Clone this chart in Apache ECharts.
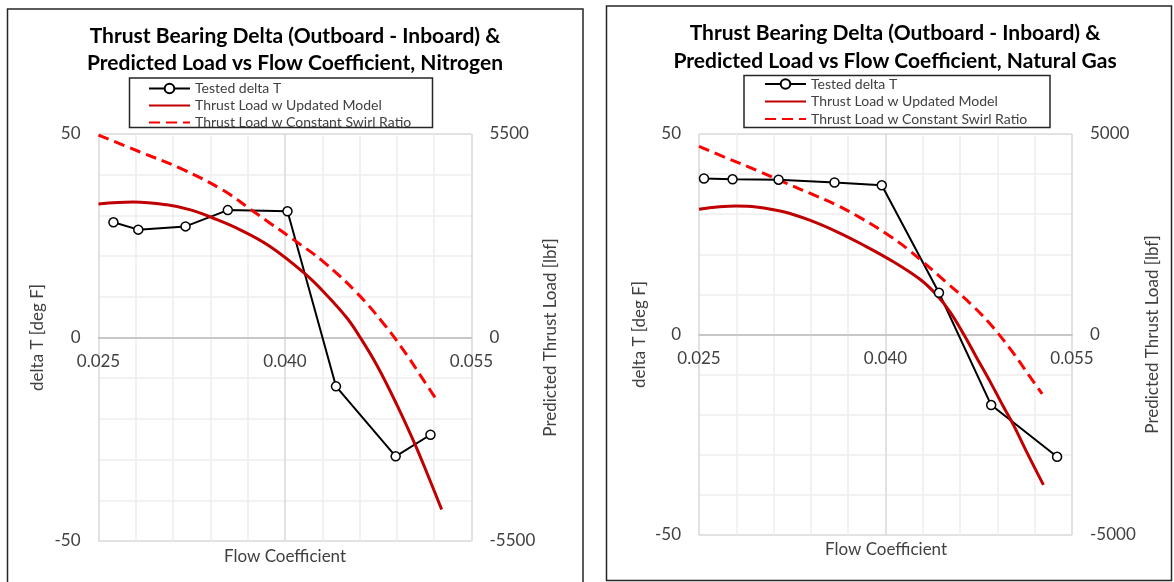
<!DOCTYPE html>
<html>
<head>
<meta charset="utf-8">
<title>Thrust Bearing Delta vs Flow Coefficient</title>
<script src="https://cdn.jsdelivr.net/npm/echarts@6/dist/echarts.min.js"></script>
<style>
html, body { margin: 0; padding: 0; background: #fff; }
#main { width: 1174px; height: 582px; }
</style>
</head>
<body>
<div id="main"></div>
<script>
// axis ticks
var flowTicks = [0.025, 0.040, 0.055];
var deltaTicks = [-50, 0, 50];
var loadTicksN2 = [-5500, 0, 5500];
var loadTicksNG = [-5000, 0, 5000];

var seriesNames = ['Tested delta T', 'Thrust Load w Updated Model', 'Thrust Load w Constant Swirl Ratio'];

// Nitrogen
var n2TestFlow = [0.0262, 0.0282, 0.0320, 0.0354, 0.0402, 0.0441, 0.0489, 0.0517];
var n2TestDelta = [28.3, 26.5, 27.3, 31.3, 31.0, -12.0, -29.2, -23.9];
var n2ModelFlow = [0.0250, 0.0278, 0.0305, 0.0324, 0.0342, 0.0364, 0.0388, 0.0416, 0.0434, 0.0450, 0.0460, 0.0474, 0.0490, 0.0505, 0.0515, 0.0526];
var n2ModelLoad = [3610, 3660, 3585, 3450, 3230, 2910, 2460, 1725, 1130, 520, 27, -757, -1820, -2920, -3730, -4650];
var n2SwirlFlow = [0.0250, 0.0283, 0.0316, 0.0350, 0.0372, 0.0388, 0.0405, 0.0431, 0.0458, 0.0480, 0.0498, 0.0509, 0.0522];
var n2SwirlLoad = [5470, 5020, 4570, 3985, 3470, 3090, 2690, 2045, 1200, 345, -470, -1030, -1685];

// Natural gas
var ngTestFlow = [0.0254, 0.0277, 0.0314, 0.0359, 0.0397, 0.0443, 0.0485, 0.0538];
var ngTestDelta = [38.9, 38.7, 38.6, 37.9, 37.2, 10.4, -17.6, -30.5];
var ngModelFlow = [0.0250, 0.0280, 0.0296, 0.0318, 0.0339, 0.0361, 0.0381, 0.0406, 0.0428, 0.0441, 0.0452, 0.0463, 0.0473, 0.0485, 0.0495, 0.0503, 0.0514, 0.0527];
var ngModelLoad = [3125, 3205, 3180, 3060, 2850, 2560, 2250, 1820, 1370, 990, 560, 0, -560, -1225, -1810, -2260, -2960, -3750];
var ngSwirlFlow = [0.0250, 0.0270, 0.0296, 0.0321, 0.0345, 0.0361, 0.0381, 0.0404, 0.0419, 0.0449, 0.0471, 0.0487, 0.0503, 0.0515, 0.0526];
var ngSwirlLoad = [4690, 4430, 4100, 3760, 3445, 3225, 2890, 2445, 2100, 1300, 690, 160, -470, -1000, -1480];

var font = 'Lato';
var labelColor = '#404040';

function pairs(xs, ys) {
    return xs.map(function (x, i) { return [x, ys[i]]; });
}

// offset pulls the flow axis up from the grid bottom to the y = 0 line
function flowAxis(gi, offset) {
    return {
        type: 'value', gridIndex: gi, position: 'bottom', offset: offset,
        min: flowTicks[0], max: flowTicks[2],
        interval: Math.round((flowTicks[1] - flowTicks[0]) * 1e6) / 1e6,
        axisLine: { onZero: false, lineStyle: { color: '#bfbfbf', width: 1.5 } },
        axisTick: { show: false },
        axisLabel: { fontFamily: font, fontSize: 17, color: labelColor, margin: 16,
            formatter: function (v) { return v.toFixed(3); } },
        splitLine: { lineStyle: { color: '#d9d9d9', width: 1.5 } },
        minorTick: { show: false, splitNumber: 5 },
        minorSplitLine: { show: true, lineStyle: { color: '#eeeeee', width: 1.5 } }
    };
}

function deltaAxis(gi, gap) {
    return {
        type: 'value', gridIndex: gi, position: 'left',
        min: deltaTicks[0], max: deltaTicks[2], interval: deltaTicks[2] - deltaTicks[1],
        axisLine: { show: false, onZero: false },
        axisTick: { show: false },
        axisLabel: { fontFamily: font, fontSize: 17, color: labelColor, margin: 18 },
        splitLine: { lineStyle: { color: '#d9d9d9', width: 1.5 } },
        minorTick: { show: false, splitNumber: 5 },
        minorSplitLine: { show: true, lineStyle: { color: '#eeeeee', width: 1.5 } },
        name: 'delta T [deg F]', nameLocation: 'middle', nameRotate: 90, nameGap: gap,
        nameTextStyle: { fontFamily: font, fontSize: 17, color: labelColor }
    };
}

function loadAxis(gi, ticks, gap) {
    return {
        type: 'value', gridIndex: gi, position: 'right',
        min: ticks[0], max: ticks[2], interval: ticks[2] - ticks[1],
        axisLine: { show: false, onZero: false },
        axisTick: { show: false },
        splitLine: { show: false },
        axisLabel: { fontFamily: font, fontSize: 17, color: labelColor, margin: 18,
            formatter: function (v) { return String(v); } },
        name: 'Predicted Thrust Load [lbf]', nameLocation: 'middle', nameRotate: 90, nameGap: gap,
        nameTextStyle: { fontFamily: font, fontSize: 17, color: labelColor }
    };
}

function chartSeries(xi, yi, yi2, testF, testD, modF, modL, swF, swL) {
    return [
        {
            name: seriesNames[0], type: 'line', xAxisIndex: xi, yAxisIndex: yi,
            data: pairs(testF, testD),
            symbol: 'circle', symbolSize: 9,
            lineStyle: { color: '#000', width: 2 },
            itemStyle: { color: '#fff', borderColor: '#000', borderWidth: 1.5 }
        },
        {
            name: seriesNames[1], type: 'line', xAxisIndex: xi, yAxisIndex: yi2,
            data: pairs(modF, modL),
            symbol: 'none', smooth: 0.4,
            lineStyle: { color: '#c00000', width: 3 },
            itemStyle: { color: '#c00000' }
        },
        {
            name: seriesNames[2], type: 'line', xAxisIndex: xi, yAxisIndex: yi2,
            data: pairs(swF, swL),
            symbol: 'none', smooth: 0.4,
            lineStyle: { color: '#ff0000', width: 3, type: [11, 6] },
            itemStyle: { color: '#ff0000' }
        }
    ];
}

function legendAt(left, top, gap) {
    return {
        left: left, top: top, orient: 'vertical', align: 'left',
        itemWidth: 41, itemHeight: 12, itemGap: gap, padding: 0,
        selectedMode: false,
        textStyle: { fontFamily: font, fontSize: 14, color: labelColor, lineHeight: 14 },
        data: [
            { name: seriesNames[0] },
            { name: seriesNames[1], itemStyle: { opacity: 0 } },
            { name: seriesNames[2], itemStyle: { opacity: 0 } }
        ]
    };
}

var myChart = echarts.init(document.getElementById('main'));

var option = {
    animation: false,
    backgroundColor: '#fff',
    title: [
        { text: 'Thrust Bearing Delta (Outboard - Inboard) &\nPredicted Load vs Flow Coefficient, Nitrogen',
          left: 295, top: 22.5, textAlign: 'center', padding: 0,
          textStyle: { fontFamily: font, fontSize: 21, fontWeight: 'bold', color: '#000', lineHeight: 27 } },
        { text: 'Flow Coefficient', left: 285, top: 547, textAlign: 'center', padding: 0,
          textStyle: { fontFamily: font, fontSize: 17, fontWeight: 'normal', color: labelColor, lineHeight: 20 } },
        { text: 'Thrust Bearing Delta (Outboard - Inboard) &\nPredicted Load vs Flow Coefficient, Natural Gas',
          left: 895, top: 19.5, textAlign: 'center', padding: 0,
          textStyle: { fontFamily: font, fontSize: 21, fontWeight: 'bold', color: '#000', lineHeight: 28 } },
        { text: 'Flow Coefficient', left: 886, top: 540, textAlign: 'center', padding: 0,
          textStyle: { fontFamily: font, fontSize: 17, fontWeight: 'normal', color: labelColor, lineHeight: 20 } }
    ],
    legend: [legendAt(148, 81.5, 3), legendAt(764, 77, 3.5)],
    grid: [
        { left: 98.5, top: 134, width: 373, height: 407 },
        { left: 699, top: 134, width: 373, height: 401 }
    ],
    xAxis: [flowAxis(0, -203.5), flowAxis(1, -200.5)],
    yAxis: [deltaAxis(0, 52), loadAxis(0, loadTicksN2, 71), deltaAxis(1, 51), loadAxis(1, loadTicksNG, 72)],
    series: chartSeries(0, 0, 1, n2TestFlow, n2TestDelta, n2ModelFlow, n2ModelLoad, n2SwirlFlow, n2SwirlLoad)
        .concat(chartSeries(1, 2, 3, ngTestFlow, ngTestDelta, ngModelFlow, ngModelLoad, ngSwirlFlow, ngSwirlLoad)),
    graphic: [
        { type: 'rect', silent: true, shape: { x: 7.5, y: 9, width: 575.5, height: 585 },
          style: { fill: 'none', stroke: '#262626', lineWidth: 1.5 } },
        { type: 'rect', silent: true, shape: { x: 606.5, y: 6, width: 565, height: 574.5 },
          style: { fill: 'none', stroke: '#262626', lineWidth: 1.5 } },
        { type: 'rect', silent: true, shape: { x: 129.5, y: 78, width: 303, height: 49.5 },
          style: { fill: 'none', stroke: '#262626', lineWidth: 1.5 } },
        { type: 'rect', silent: true, shape: { x: 744, y: 75.5, width: 306, height: 52 },
          style: { fill: 'none', stroke: '#262626', lineWidth: 1.5 } }
    ]
};

myChart.setOption(option);
</script>
</body>
</html>
